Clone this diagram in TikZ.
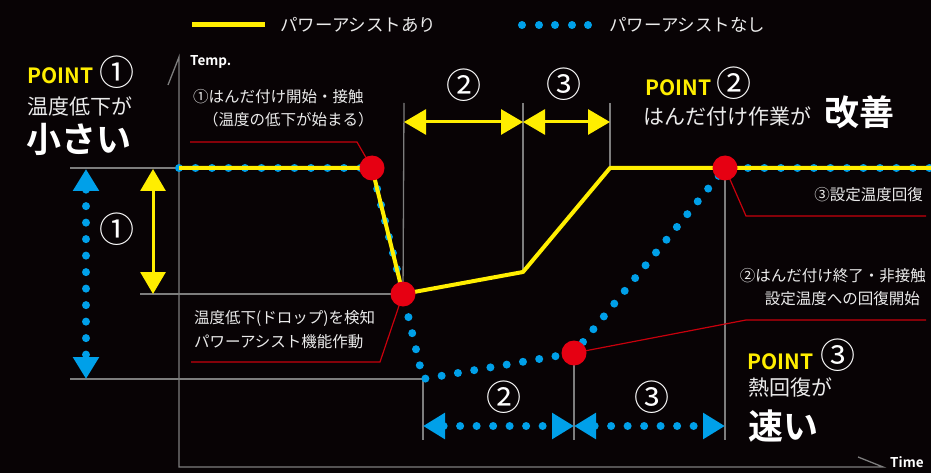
\documentclass[tikz,border=0pt]{standalone}
\usepackage{fontspec}
\setmainfont{Noto Sans CJK JP}[BoldFont={Noto Sans CJK JP Bold}]
\usetikzlibrary{arrows.meta}

\definecolor{bgblack}{RGB}{8,3,5}
\definecolor{gridgray}{RGB}{125,125,125}
\definecolor{assistyellow}{RGB}{255,238,0}
\definecolor{noassistblue}{RGB}{0,160,233}
\definecolor{hotred}{RGB}{230,0,18}
\definecolor{leaderred}{RGB}{200,0,12}
\definecolor{softwhite}{RGB}{235,235,235}

\tikzset{
  guide/.style={draw=gridgray, line width=1.3pt},
  assist/.style={draw=assistyellow, line width=4pt, line join=round},
  noassist/.style={draw=noassistblue, line width=8pt, line cap=round,
    dash pattern=on 0pt off 16.5pt},
  leader/.style={draw=leaderred, line width=1.2pt},
  hotspot/.style={circle, fill=hotred, minimum size=25pt, inner sep=0pt},
  spantips/.style={{Triangle[width=25pt,length=22pt]}-{Triangle[width=25pt,length=22pt]}},
  note/.style={text=softwhite, inner sep=0pt, font=\fontsize{15.5}{18}\selectfont},
  headline/.style={text=softwhite, inner sep=0pt, font=\fontsize{21}{24}\selectfont},
  bigword/.style={text=white, inner sep=0pt, font=\fontsize{35}{40}\selectfont\bfseries},
  pointtag/.style={text=assistyellow, inner sep=0pt, font=\fontsize{21}{24}\selectfont\bfseries},
  circnum/.style={text=white, inner sep=0pt, font=\fontsize{35}{38}\selectfont},
  axislabel/.style={text=white, inner sep=0pt, font=\fontsize{13.5}{15}\selectfont\bfseries}
}

\begin{document}
\begin{tikzpicture}[x=1pt, y=-1pt]
  \fill[bgblack] (0,0) rectangle (931,473);
  \useasboundingbox (0,0) rectangle (931,473);

  % curve points
  \coordinate (origin) at (179,467);
  \coordinate (ytop) at (179,57);
  \coordinate (xend) at (883,467);
  \coordinate (start) at (179,168);
  \coordinate (contact) at (372,168);
  \coordinate (drop) at (403,294);
  \coordinate (knee) at (523,272);
  \coordinate (settop) at (610,168);
  \coordinate (bottom) at (423,379);
  \coordinate (release) at (574,353);
  \coordinate (recover) at (725,168);
  \coordinate (rend) at (931,168);

  % legend
  \draw[assistyellow, line width=5pt] (192,25) -- (265,25);
  \node[note, font=\fontsize{17.5}{20}\selectfont, anchor=west] (legend-yes) at (280,25) {パワーアシストあり};
  \foreach \x in {522,539,555,572,588}
    \fill[noassistblue] (\x,25) circle (4pt);
  \node[note, font=\fontsize{17.5}{20}\selectfont, anchor=west] (legend-no) at (609,25) {パワーアシストなし};

  % axes
  \draw[guide] (168,85) -- (ytop) -- (origin) -- (xend) -- (858,457);
  \node[axislabel, anchor=west] (temp-label) at (190,62) {Temp.};
  \node[axislabel, anchor=west] (time-label) at (890,462) {Time};

  % guides
  \draw[guide] (70,168) -- (start);
  \draw[guide] (140,294) -- (drop);
  \draw[guide] (70,379) -- (bottom);
  \draw[guide] (404,103) -- (drop);
  \draw[guide] (523,103) -- (knee);
  \draw[guide] (610,103) -- (settop);
  \draw[guide] (recover) -- (725,440);
  \draw[guide] (release) -- (574,440);
  \draw[guide] (bottom) -- (423,440);

  % curves
  \draw[noassist] (start) -- (contact) -- (drop) -- (bottom) -- (release) -- (recover) -- (rend);
  \draw[assist] (start) -- (contact) -- (drop) -- (knee) -- (settop) -- (rend);

  % leaders
  \draw[leader] (contact) -- (357,142) -- (190,142);
  \draw[leader] (drop) -- (380,362) -- (191,362);
  \draw[leader] (recover) -- (746,216) -- (926,216);
  \draw[leader] (release) -- (746,320) -- (926,320);

  \node[hotspot] (dot-contact) at (contact) {};
  \node[hotspot] (dot-drop) at (drop) {};
  \node[hotspot] (dot-release) at (release) {};
  \node[hotspot] (dot-recover) at (recover) {};

  % spans
  \draw[noassist, spantips] (86,169) -- (86,379);
  \draw[assist, line width=3pt, spantips] (153,169) -- (153,294);
  \node[circnum] (span1) at (117,229) {①};
  \draw[assist, line width=3pt, spantips] (404,122) -- (523,122);
  \draw[assist, line width=3pt, spantips] (523,122) -- (610,122);
  \node[circnum] (span2-top) at (464,85) {②};
  \node[circnum] (span3-top) at (564,84) {③};
  \draw[noassist, spantips] (423,426) -- (574,426);
  \draw[noassist, spantips] (574,426) -- (725,426);
  \node[circnum] (span2-bot) at (504,397) {②};
  \node[circnum] (span3-bot) at (652,397) {③};

  % notes
  \node[note, anchor=west] (note-contact1) at (193,97) {①はんだ付け開始・接触};
  \node[note, anchor=west] (note-contact2) at (203,120) {（温度の低下が始まる）};
  \node[note, anchor=west] (note-drop1) at (194,318) {温度低下(ドロップ)を検知};
  \node[note, anchor=west] (note-drop2) at (194,342) {パワーアシスト機能作動};
  \node[note, anchor=east] (note-recover) at (923,195) {③設定温度回復};
  \node[note, anchor=east] (note-release1) at (926,276) {②はんだ付け終了・非接触};
  \node[note, anchor=east] (note-release2) at (920,299) {設定温度への回復開始};

  % points
  \node[pointtag, anchor=west] (point1) at (27,76) {POINT};
  \node[circnum] (point1-num) at (117,72) {①};
  \node[headline, anchor=west] (point1-text) at (27,106) {温度低下が};
  \node[bigword, anchor=west] (point1-word) at (26,139) {小さい};

  \node[pointtag, anchor=west] (point2) at (645,88) {POINT};
  \node[circnum] (point2-num) at (734,83) {②};
  \node[headline, anchor=west] (point2-text) at (643,116) {はんだ付け作業が};
  \node[bigword, anchor=west] (point2-word) at (824,112) {改善};

  \node[pointtag, anchor=west] (point3) at (747,362) {POINT};
  \node[circnum] (point3-num) at (838,355) {③};
  \node[headline, anchor=west] (point3-text) at (748,387) {熱回復が};
  \node[bigword, anchor=west] (point3-word) at (748,426) {速い};
\end{tikzpicture}
\end{document}
